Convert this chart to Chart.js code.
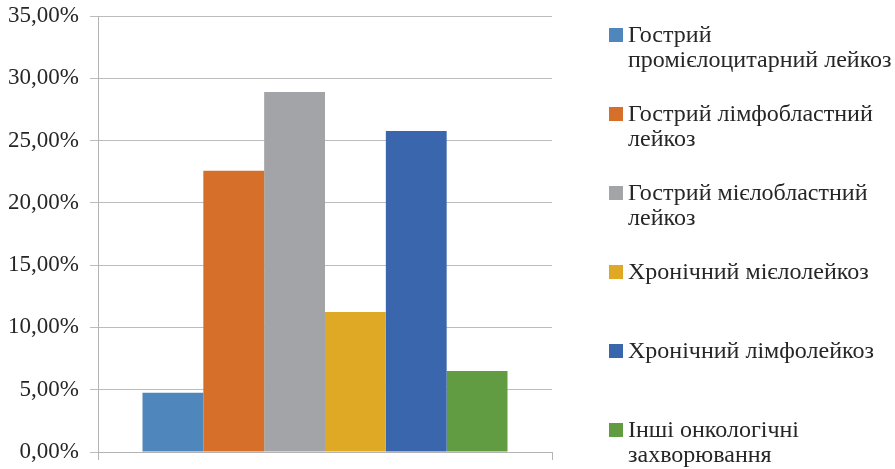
<!DOCTYPE html>
<html>
<head>
<meta charset="utf-8">
<script src="https://cdn.jsdelivr.net/npm/chart.js@4/dist/chart.umd.min.js"></script>
<style>
  html, body { margin: 0; padding: 0; background: #fff; }
  #wrap { width: 895px; height: 469px; position: relative; }
</style>
</head>
<body>
<div id="wrap"><canvas id="bars"></canvas></div>
<script>
// частка захворювань (у частках одиниці)
const categories = [
  ['Гострий', 'промієлоцитарний лейкоз'],
  ['Гострий лімфобластний', 'лейкоз'],
  ['Гострий мієлобластний', 'лейкоз'],
  ['Хронічний мієлолейкоз'],
  ['Хронічний лімфолейкоз'],
  ['Інші онкологічні', 'захворювання'],
];
const shares = [0.0475, 0.2258, 0.2890, 0.1124, 0.2577, 0.0650];
const colors = ['#4f87bd', '#d56f29', '#a3a4a7', '#dfa925', '#3a66ae', '#629c42'];
const yTicks = [0, 0.05, 0.10, 0.15, 0.20, 0.25, 0.30, 0.35];

const serif = "'Liberation Serif', 'Times New Roman', serif";
const textColor = '#262626';

const datasets = categories.map((lines, i) => ({
  label: lines.join(' '),
  data: [shares[i]],
  backgroundColor: colors[i],
  borderWidth: 0,
  barPercentage: 1,
  categoryPercentage: 0.804,
}));

// легенда праворуч, з переносом рядків
const sideLegend = {
  id: 'sideLegend',
  afterDraw(chart) {
    const ctx = chart.ctx;
    const firstY = 35, step = 79, lineH = 25;
    ctx.save();
    ctx.font = `24px ${serif}`;
    ctx.textBaseline = 'middle';
    ctx.textAlign = 'left';
    categories.forEach((lines, i) => {
      const y = firstY + i * step;
      ctx.fillStyle = colors[i];
      ctx.fillRect(609, y - 7, 14, 14);
      ctx.fillStyle = textColor;
      lines.forEach((line, j) => ctx.fillText(line, 628, y + 1 + j * lineH));
    });
    ctx.restore();
  },
};

new Chart(document.getElementById('bars'), {
  type: 'bar',
  data: { labels: [''], datasets },
  options: {
    responsive: true,
    maintainAspectRatio: false,
    animation: false,
    layout: { padding: { top: 16, right: 343, bottom: 9, left: 0 } },
    plugins: {
      legend: { display: false },
      tooltip: { enabled: false },
    },
    scales: {
      x: {
        offset: true,
        afterFit: (scale) => {
          scale.height = 8;
          scale.paddingLeft = scale.paddingRight = 0;
        },
        grid: {
          drawOnChartArea: false,
          drawTicks: true,
          tickLength: 8,
          color: '#b4b4b4',
        },
        border: { color: '#b4b4b4', width: 1 },
        ticks: { display: false },
      },
      y: {
        min: 0,
        max: 0.35,
        afterBuildTicks: (scale) => {
          scale.ticks = yTicks.map((value) => ({ value }));
        },
        afterFit: (scale) => {
          scale.width = 98;
          scale.paddingTop = scale.paddingBottom = 0;
        },
        grid: { color: '#bcbcbc', tickLength: 8, lineWidth: 1 },
        border: { color: '#b4b4b4', width: 1 },
        ticks: {
          padding: 11,
          color: textColor,
          font: { family: serif, size: 23 },
          callback: (v) => (v * 100).toFixed(2).replace('.', ',') + '%',
        },
      },
    },
  },
  plugins: [sideLegend],
});
</script>
</body>
</html>
